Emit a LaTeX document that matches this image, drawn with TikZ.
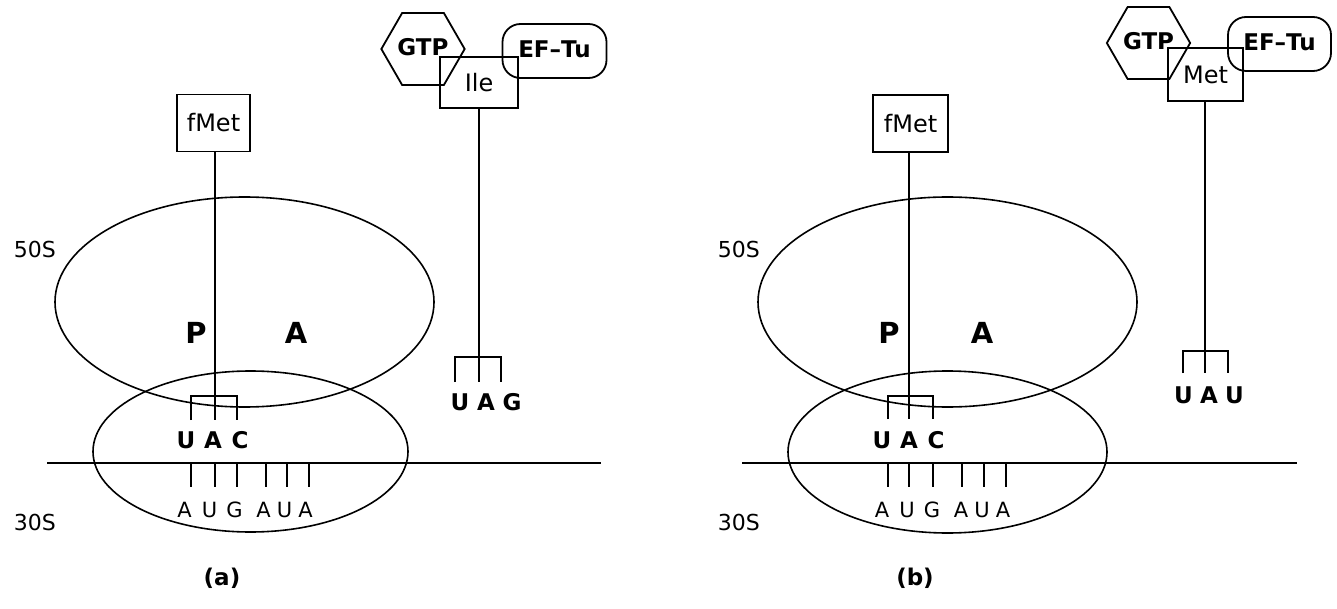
\documentclass[tikz,border=0pt]{standalone}
\usepackage{fontspec}
\setmainfont{DejaVu Sans}
\usetikzlibrary{shapes.geometric}
\newcommand\lc[2]{\makebox[#1pt]{#2}}
\tikzset{
  ln/.style={line width=1.8pt},
  ell/.style={line width=1.6pt},
  lab/.style={inner sep=0pt, anchor=base, font=\fontsize{22}{26}\selectfont},
  sub/.style={inner sep=0pt, anchor=base east, font=\fontsize{22}{26}\selectfont},
  codon/.style={inner sep=0pt, anchor=base, font=\fontsize{21}{25}\selectfont},
  anti/.style={inner sep=0pt, anchor=base, font=\fontsize{23}{27}\selectfont\bfseries},
  site/.style={inner sep=0pt, anchor=base, font=\fontsize{29}{33}\selectfont\bfseries},
  panel/.style={inner sep=0pt, anchor=base, font=\fontsize{23}{27}\selectfont\bfseries},
  aabox/.style={draw, line width=1.8pt, inner sep=0pt, font=\fontsize{24}{28}\selectfont},
  hex/.style={draw, line width=1.8pt, regular polygon, regular polygon sides=6, inner sep=0pt, font=\fontsize{23}{27}\selectfont\bfseries},
  eftu/.style={draw, line width=1.8pt, rectangle, rounded corners=18pt, inner sep=0pt, minimum width=104pt, minimum height=54pt, font=\fontsize{23}{27}\selectfont\bfseries}
}
\begin{document}
\begin{tikzpicture}[x=1pt,y=-1pt]
\useasboundingbox (0,0) rectangle (1337,609);
\fill[white] (0,0) rectangle (1337,609);
% ================= (a) =================
\draw[ell] (244.5,302) ellipse [x radius=189.5pt, y radius=105pt];
\draw[ell] (250.5,451.5) ellipse [x radius=157.5pt, y radius=80.5pt];
\coordinate (mLa) at (47,463);
\coordinate (mRa) at (601,463);
\draw[ln] (mLa) -- (mRa);
\foreach \x in {191,215,237,266,287,309} \draw[ln] (\x,463) -- (\x,487);
\node[sub] (s50a) at (56,258) {50S};
\node[sub] (s30a) at (56,530) {30S};
\node[aabox, minimum width=73pt, minimum height=57pt] (fMa) at (213.5,123) {fMet};
\coordinate (pa) at (215,420);
\draw[ln] (fMa.south -| pa) -- (pa);
\draw[ln] (191,420) -- (191,396) -- (237,396) -- (237,420);
\node[anti] (uaca) at (213,448) {\lc{27}{U}\lc{27}{A}\lc{27}{C}};
\node[codon] (mrna) at (244,517) {\lc{25}{A}\lc{25}{U}\lc{25}{G}\hspace{6pt}\lc{21}{A}\lc{21}{U}\lc{21}{A}};
\node[site] (Pa) at (196,343) {P};
\node[site] (Aa) at (296,343) {A};
\node[hex, minimum size=76pt] (gtpa) at (423,49) {\raisebox{5pt}{GTP}};
\node[eftu] (efa) at (554.5,51) {\raisebox{4pt}{EF--Tu}};
\node[aabox, minimum width=78pt, minimum height=51pt] (ile) at (479,82.5) {\raisebox{-4pt}{Ile}};
\coordinate (ta) at (479,382);
\draw[ln] (ile.south -| ta) -- (ta);
\draw[ln] (455,382) -- (455,357) -- (501,357) -- (501,382);
\node[anti] (uag) at (486,410) {\lc{26}{U}\lc{26}{A}\lc{26}{G}};
\node[panel] (capa) at (222,585) {(a)};
% ================= (b) =================
\draw[ell] (947.5,302) ellipse [x radius=189.5pt, y radius=105pt];
\draw[ell] (947.5,452) ellipse [x radius=159.5pt, y radius=81pt];
\coordinate (mLb) at (742,463);
\coordinate (mRb) at (1297,463);
\draw[ln] (mLb) -- (mRb);
\foreach \x in {888,909,933,962,984,1006} \draw[ln] (\x,463) -- (\x,487);
\node[sub] (s50b) at (760,258) {50S};
\node[sub] (s30b) at (760,530) {30S};
\node[aabox, minimum width=75pt, minimum height=57pt] (fMb) at (910.5,123.5) {fMet};
\coordinate (pb) at (909,419);
\draw[ln] (fMb.south -| pb) -- (pb);
\draw[ln] (888,419) -- (888,396) -- (933,396) -- (933,419);
\node[anti] (uacb) at (909,448) {\lc{27}{U}\lc{27}{A}\lc{27}{C}};
\node[codon] (mrnb) at (941.5,517) {\lc{25}{A}\lc{25}{U}\lc{25}{G}\hspace{6pt}\lc{21}{A}\lc{21}{U}\lc{21}{A}};
\node[site] (Pb) at (889,343) {P};
\node[site] (Ab) at (982,343) {A};
\node[hex, minimum size=77pt] (gtpb) at (1148.5,43) {\raisebox{5pt}{GTP}};
\node[eftu, minimum width=103pt] (efb) at (1279.5,44) {\raisebox{4pt}{EF--Tu}};
\node[aabox, minimum width=75pt, minimum height=53pt] (met) at (1205.5,74.5) {Met};
\coordinate (tb) at (1205,373);
\draw[ln] (met.south -| tb) -- (tb);
\draw[ln] (1183,373) -- (1183,351) -- (1228,351) -- (1228,373);
\node[anti] (uau) at (1209,403) {\lc{25.5}{U}\lc{25.5}{A}\lc{25.5}{U}};
\node[panel] (capb) at (915,585) {(b)};
\end{tikzpicture}
\end{document}
